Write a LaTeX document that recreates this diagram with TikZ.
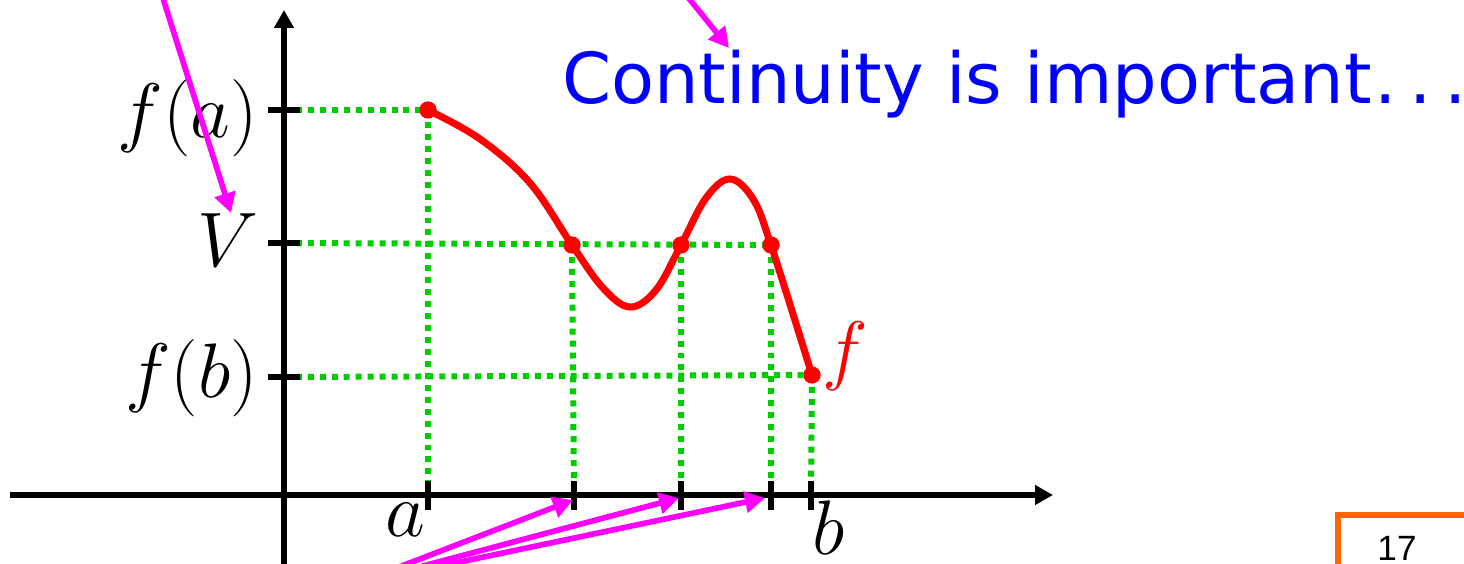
\RequirePackage{fix-cm}
\documentclass[tikz,border=0pt]{standalone}
\usepackage{fontspec}
\newfontfamily\slidefont{DejaVu Sans}
\newfontfamily\pagefont{Liberation Sans}
\usetikzlibrary{arrows.meta}
\definecolor{guidegreen}{RGB}{0,204,0}
\definecolor{hintmagenta}{RGB}{255,0,255}
\definecolor{pageorange}{RGB}{255,102,0}
\newcommand\bigmath{\fontsize{44}{50}\selectfont}

\begin{document}
\begin{tikzpicture}[x=0.02cm,y=-0.02cm,
 axis/.style={line width=3.2pt,-{Triangle[length=0.36cm,width=0.38cm]}},
 tickmark/.style={line width=3.4pt},
 guide/.style={line width=3.4pt,guidegreen,dash pattern=on 3.4pt off 3.4pt},
 graph/.style={line width=4pt,red},
 pt/.style={circle,fill=red,inner sep=0pt,minimum size=0.34cm},
 lab/.style={inner sep=0pt,font=\bigmath},
 hint/.style={line width=3.2pt,hintmagenta,-{Triangle[length=0.4cm,width=0.42cm]}}]
\useasboundingbox (0,0) rectangle (1464,564);
% points on the graph
\node[pt] (pa) at (428,110) {};
\node[pt] (p1) at (572,245) {};
\node[pt] (p2) at (681,245) {};
\node[pt] (p3) at (771,245) {};
\node[pt] (pb) at (812,375) {};
% feet on the axes
\coordinate (ya) at (284,110);
\coordinate (yv) at (284,243);
\coordinate (yb) at (284,377);
\coordinate (xa) at (428,495);
\coordinate (x1) at (574,495);
\coordinate (x2) at (681,495);
\coordinate (x3) at (771,495);
\coordinate (xb) at (811,495);
% dotted guides
\draw[guide] (ya) -- (pa.center);
\draw[guide] (yv) -- (p3.center);
\draw[guide] (yb) -- (pb.center);
\draw[guide] (pa.center) -- (xa);
\draw[guide] (p1.center) -- (x1);
\draw[guide] (p2.center) -- (x2);
\draw[guide] (p3.center) -- (x3);
\draw[guide] (pb.center) -- (xb);
% axes
\coordinate (xl) at (10,495);
\coordinate (xr) at (1053,495);
\coordinate (yd) at (284,580);
\coordinate (yu) at (284,10);
\draw[axis] (xl) -- (xr);
\draw[axis] (yd) -- (yu);
\foreach \c in {ya,yv,yb}
  \draw[tickmark] ([xshift=-0.32cm]\c) -- ([xshift=0.32cm]\c);
\foreach \c in {xa,x1,x2,x3,xb}
  \draw[tickmark] ([yshift=0.28cm]\c) -- ([yshift=-0.3cm]\c);
% the graph of f
\draw[graph] plot[smooth,tension=0.6] coordinates {(428,110) (480,139) (530,183) (572,245)
  (603,288) (630,307) (656,290) (681,245) (706,198) (730,179) (753,199) (771,245) (812,375)};
\foreach \p in {pa,p1,p2,p3,pb} \node[pt] at (\p) {};
% labels
\node[lab,anchor=east] (lfa) at (258,118) {$f(a)$};
\node[lab,anchor=east] (lv) at (259,240) {$V$};
\node[lab,anchor=east] (lfb) at (258,378) {$f(b)$};
\node[lab] (la) at (405,520) {$a$};
\node[lab] (lb) at (829,528) {$b$};
\node[lab,text=red] (lf) at (845,356) {$f$};
\node[inner sep=0pt,anchor=base west,text=blue,font=\slidefont\fontsize{40}{46}\selectfont] (note) at (562,104)
  {Continuity is important\kern0.04em.\kern0.18em.\kern0.18em.};
% pointers coming from off the slide
\coordinate (srcv) at (154,-30);
\coordinate (tipv) at (231,213);
\coordinate (srcn) at (666,-30);
\coordinate (tipn) at (729,48);
\coordinate (srcx) at (355,584);
\coordinate (tip1) at (573,500);
\coordinate (tip2) at (679,498);
\coordinate (tip3) at (765,498);
\draw[hint] (srcv) -- (tipv);
\draw[hint] (srcn) -- (tipn);
\draw[hint] (srcx) -- (tip1);
\draw[hint] (srcx) -- (tip2);
\draw[hint] (srcx) -- (tip3);
% page number box
\coordinate (pgd) at (1338,580);
\coordinate (pgc) at (1338,515);
\coordinate (pgr) at (1480,515);
\draw[pageorange,line width=3.6pt] (pgd) -- (pgc) -- (pgr);
\node[inner sep=0pt,font=\pagefont\fontsize{20}{24}\selectfont] (pgno) at (1397,548) {17};
\end{tikzpicture}
\end{document}
